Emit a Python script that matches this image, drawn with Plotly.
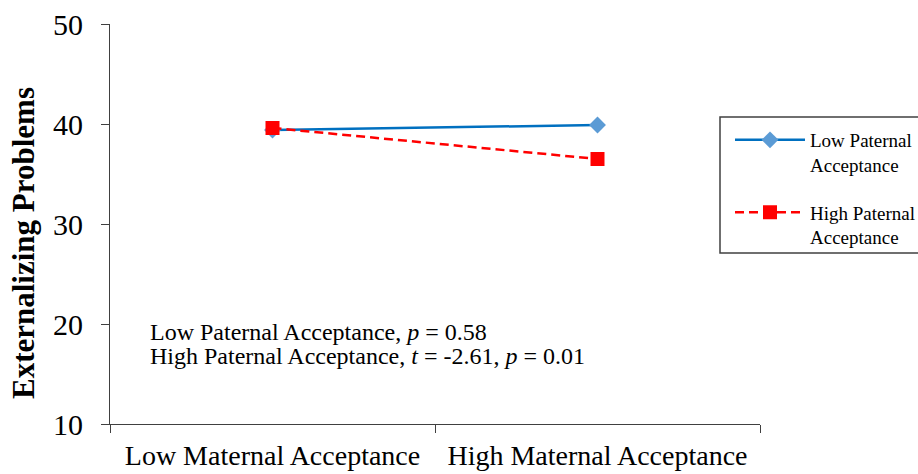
import plotly.graph_objects as go

categories = ["Low Maternal Acceptance", "High Maternal Acceptance"]
low_paternal = [39.4, 39.9]
high_paternal = [39.6, 36.5]
series_names = ["Low Paternal<br>Acceptance", "High Paternal<br>Acceptance"]
y_ticks = [10, 20, 30, 40, 50]
note_lines = [
    "Low Paternal Acceptance, <i>p</i> = 0.58",
    "High Paternal Acceptance, <i>t</i> = -2.61, <i>p</i> = 0.01",
]

FONT = "Liberation Serif, Times New Roman, serif"

fig = go.Figure()
fig.add_trace(go.Scatter(
    x=categories, y=low_paternal, name=series_names[0], mode="lines+markers",
    legendgroup="a",
    line=dict(color="#0070C0", width=2.5),
    marker=dict(symbol="diamond", size=13, color="#5B9BD5"),
))
fig.add_trace(go.Scatter(
    x=categories, y=high_paternal, name=series_names[1], mode="lines+markers",
    legendgroup="b",
    line=dict(color="#FF0000", width=2.5, dash="9px,5px"),
    marker=dict(symbol="square", size=14, color="#FF0000"),
))

for txt, yy in zip(note_lines, [0.23125, 0.17125]):
    fig.add_annotation(
        xref="paper", yref="paper", x=0.058, y=yy, xanchor="left", yanchor="middle",
        align="left", showarrow=False, text=txt,
        font=dict(family=FONT, size=24, color="black"),
    )

# y-axis title
fig.add_annotation(
    xref="paper", yref="paper", x=(23 - 110) / 650, y=(424 - 243) / 400,
    xanchor="center", yanchor="middle", textangle=-90, showarrow=False,
    text="<b>Externalizing Problems</b>",
    font=dict(family=FONT, size=31, color="black"),
)

# legend frame
fig.add_shape(
    type="rect", xref="paper", yref="paper",
    x0=(720 - 110) / 650, x1=(930 - 110) / 650,
    y0=(424 - 253) / 400, y1=(424 - 117) / 400,
    line=dict(color="#404040", width=1.5), fillcolor="rgba(0,0,0,0)",
)

fig.update_layout(
    width=918, height=474,
    margin=dict(l=110, r=158, t=24, b=50, autoexpand=False),
    paper_bgcolor="white", plot_bgcolor="white",
    font=dict(family=FONT, color="black"),
    showlegend=True,
    legend=dict(
        x=730/918, y=1 - 121/474, xref="container", yref="container",
        xanchor="left", yanchor="top",
        borderwidth=0, bgcolor="rgba(0,0,0,0)",
        font=dict(family=FONT, size=19, color="black"),
        itemwidth=70, tracegroupgap=20, valign="top",
    ),
    xaxis=dict(
        type="category", range=[-0.5, 1.5], tickson="boundaries",
        showline=True, linecolor="#404040", linewidth=1,
        ticks="outside", ticklen=8, tickcolor="#404040",
        ticklabelstandoff=6,
        showgrid=False, zeroline=False,
        tickfont=dict(family=FONT, size=28, color="black"),
    ),
    yaxis=dict(
        range=[10, 50], tickvals=y_ticks,
        showline=True, linecolor="#404040", linewidth=1,
        ticks="outside", ticklen=8, tickcolor="#404040",
        ticklabelstandoff=12,
        showgrid=False, zeroline=False,
        tickfont=dict(family=FONT, size=30, color="black"),
    ),
)

fig.write_html("out.html")
